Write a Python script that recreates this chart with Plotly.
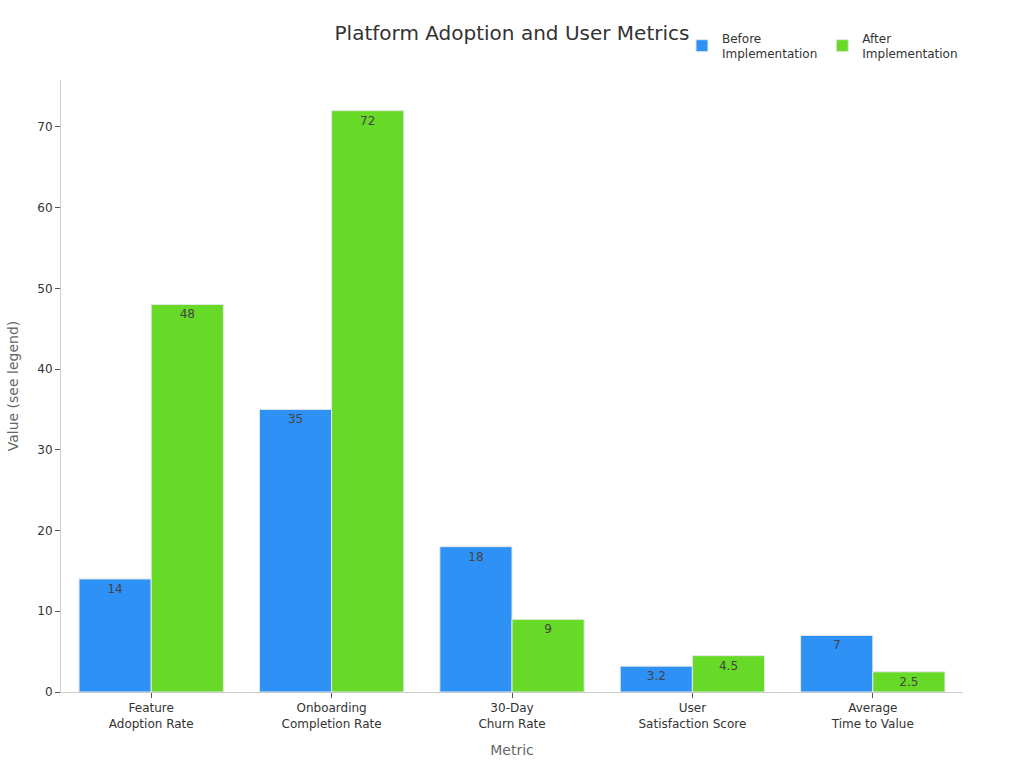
import plotly.graph_objects as go

categories = ["Feature<br>Adoption Rate", "Onboarding<br>Completion Rate", "30-Day<br>Churn Rate",
              "User<br>Satisfaction Score", "Average<br>Time to Value"]
before_vals = [14, 35, 18, 3.2, 7]
after_vals = [48, 72, 9, 4.5, 2.5]
before_labels = ["14", "35", "18", "3.2", "7"]
after_labels = ["48", "72", "9", "4.5", "2.5"]

FONT = "DejaVu Sans"

fig = go.Figure()
fig.add_trace(go.Bar(
    name="Before<br>Implementation", x=categories, y=before_vals,
    text=before_labels, textposition="inside", insidetextanchor="end",
    textfont=dict(color="#444444", size=12, family=FONT),
    marker=dict(color="#2E91F5", line=dict(color="#E6E6E6", width=1)),
))
fig.add_trace(go.Bar(
    name="After<br>Implementation", x=categories, y=after_vals,
    text=after_labels, textposition="inside", insidetextanchor="end",
    textfont=dict(color="#444444", size=12, family=FONT),
    marker=dict(color="#66DA26", line=dict(color="#E6E6E6", width=1)),
))

fig.update_layout(
    width=1024, height=768,
    margin=dict(l=61, r=61, t=80, b=76, autoexpand=False),
    paper_bgcolor="white", plot_bgcolor="white",
    font=dict(family=FONT, color="#333333", size=12),
    title=dict(text="Platform Adoption and User Metrics", x=0.5, xanchor="center",
               y=0.957, yanchor="middle", font=dict(size=20, color="#333333", family=FONT)),
    barmode="group", bargap=0.2, bargroupgap=0,
    uniformtext=dict(mode="show", minsize=12),
    legend=dict(orientation="h", xref="container", x=0.666, xanchor="left",
                yref="container", y=0.940, yanchor="middle",
                font=dict(size=12, color="#333333"), bgcolor="rgba(0,0,0,0)",
                itemwidth=30, tracegroupgap=0),
    xaxis=dict(title=dict(text="Metric", font=dict(size=14, color="#666666")),
               showline=True, linecolor="#CCCCCC", ticks="outside", tickcolor="#555555",
               ticklen=5, showgrid=False, tickfont=dict(size=12, color="#333333")),
    yaxis=dict(title=dict(text="Value (see legend)", font=dict(size=14, color="#666666")),
               range=[0, 75.8], dtick=10, showline=True, linecolor="#CCCCCC",
               ticks="outside", tickcolor="#555555", ticklen=5, showgrid=False,
               zeroline=False, tickfont=dict(size=12, color="#333333")),
)

fig.write_html("out.html")
